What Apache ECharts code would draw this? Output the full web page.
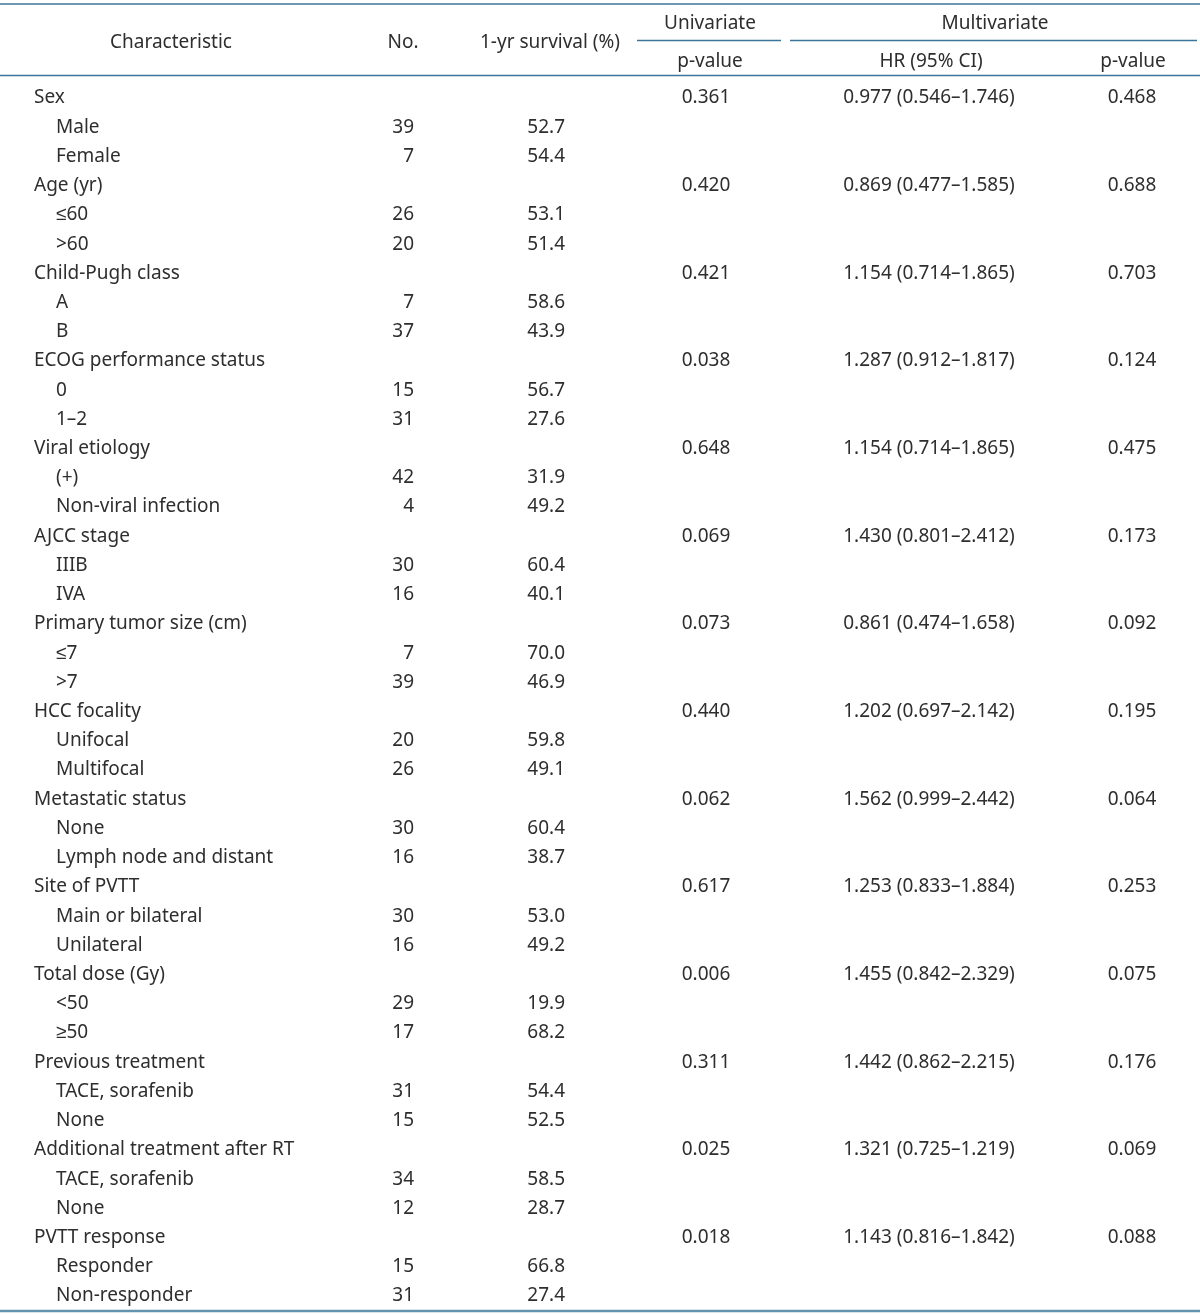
<!DOCTYPE html>
<html><head><meta charset="utf-8">
<script src="https://cdn.jsdelivr.net/npm/echarts@6/dist/echarts.min.js"></script>
<style>html,body{margin:0;padding:0;background:#fff}#c{width:1200px;height:1314px}</style>
</head><body><div id="c"></div>
<script>
// ---- data ----
const characteristics = ['Sex','Male','Female','Age (yr)','≤60','>60','Child-Pugh class','A','B',
 'ECOG performance status','0','1–2','Viral etiology','(+)','Non-viral infection','AJCC stage','IIIB','IVA',
 'Primary tumor size (cm)','≤7','>7','HCC focality','Unifocal','Multifocal','Metastatic status','None',
 'Lymph node and distant','Site of PVTT','Main or bilateral','Unilateral','Total dose (Gy)','<50','≥50',
 'Previous treatment','TACE, sorafenib','None','Additional treatment after RT','TACE, sorafenib','None',
 'PVTT response','Responder','Non-responder'];
const numbers = ['','39','7','','26','20','','7','37','','15','31','','42','4','','30','16','','7','39',
 '','20','26','','30','16','','30','16','','29','17','','31','15','','34','12','','15','31'];
const survival = ['','52.7','54.4','','53.1','51.4','','58.6','43.9','','56.7','27.6','','31.9','49.2',
 '','60.4','40.1','','70.0','46.9','','59.8','49.1','','60.4','38.7','','53.0','49.2','','19.9','68.2',
 '','54.4','52.5','','58.5','28.7','','66.8','27.4'];
const uniP = ['0.361','','','0.420','','','0.421','','','0.038','','','0.648','','','0.069','','',
 '0.073','','','0.440','','','0.062','','','0.617','','','0.006','','','0.311','','','0.025','','',
 '0.018','',''];
const hrCI = ['0.977 (0.546–1.746)','','','0.869 (0.477–1.585)','','','1.154 (0.714–1.865)','','',
 '1.287 (0.912–1.817)','','','1.154 (0.714–1.865)','','','1.430 (0.801–2.412)','','',
 '0.861 (0.474–1.658)','','','1.202 (0.697–2.142)','','','1.562 (0.999–2.442)','','',
 '1.253 (0.833–1.884)','','','1.455 (0.842–2.329)','','','1.442 (0.862–2.215)','','',
 '1.321 (0.725–1.219)','','','1.143 (0.816–1.842)','',''];
const multiP = ['0.468','','','0.688','','','0.703','','','0.124','','','0.475','','','0.173','','',
 '0.092','','','0.195','','','0.064','','','0.253','','','0.075','','','0.176','','','0.069','','',
 '0.088','',''];
const spanHeaders = ['Univariate','Multivariate'];
const colHeaders = ['Characteristic','No.','1-yr survival (%)','p-value','HR (95% CI)','p-value'];

// ---- style / layout ----
const FONT = '19px "Noto Sans", sans-serif';
const TEXT = '#2e2e2e';
const RULE = '#3a7699';
const rowIdx = characteristics.map((_, i) => String(i));

function makeSeries(texts, x, align, indentSubs) {
  const data = [];
  texts.forEach((t, i) => { if (t !== '') data.push([x, i]); });
  return {
    type: 'custom', coordinateSystem: 'cartesian2d', data, silent: true,
    renderItem(params, api) {
      const row = api.value(1);
      const p = api.coord([api.value(0), row]);
      let px = p[0];
      if (indentSubs && uniP[row] === '') px += 22;
      return {
        type: 'text', x: px, y: p[1],
        style: { text: texts[row], font: FONT, fill: TEXT,
          align: align, verticalAlign: 'middle', textAlign: align, textVerticalAlign: 'middle' }
      };
    }
  };
}

function htext(text, x, y) {
  return { type: 'text', x, y, silent: true,
    style: { text, font: FONT, fill: TEXT, align: 'center', verticalAlign: 'middle',
      textAlign: 'center', textVerticalAlign: 'middle' } };
}
function hline(x1, x2, y, w, c) {
  return { type: 'line', silent: true, shape: { x1, y1: y, x2, y2: y },
    style: { stroke: c || RULE, lineWidth: w || 1.5 } };
}

const chart = echarts.init(document.getElementById('c'), null, { renderer: 'canvas' });
chart.setOption({
  animation: false,
  backgroundColor: '#fff',
  grid: { left: 0, right: 0, top: 83.4, height: 1227.2 },
  xAxis: { type: 'value', min: 0, max: 1200, show: false },
  yAxis: { type: 'category', data: rowIdx, inverse: true, show: false },
  series: [
    makeSeries(characteristics, 34, 'left', true),
    makeSeries(numbers, 414, 'right', false),
    makeSeries(survival, 565, 'right', false),
    makeSeries(uniP, 706, 'center', false),
    makeSeries(hrCI, 929, 'center', false),
    makeSeries(multiP, 1132, 'center', false)
  ],
  graphic: [
    hline(0, 1200, 4, 1.5),
    hline(637, 781, 40.5, 1.5),
    hline(790, 1197, 40.5, 1.5),
    hline(0, 1200, 75.5, 1.5),
    hline(0, 1200, 1311, 2.5, '#6493b0'),
    htext(colHeaders[0], 171, 43),
    htext(colHeaders[1], 403, 43),
    htext(colHeaders[2], 550, 43),
    htext(spanHeaders[0], 710, 24),
    htext(spanHeaders[1], 995, 24),
    htext(colHeaders[3], 710, 62),
    htext(colHeaders[4], 931, 62),
    htext(colHeaders[5], 1133, 62)
  ]
});
</script></body></html>
